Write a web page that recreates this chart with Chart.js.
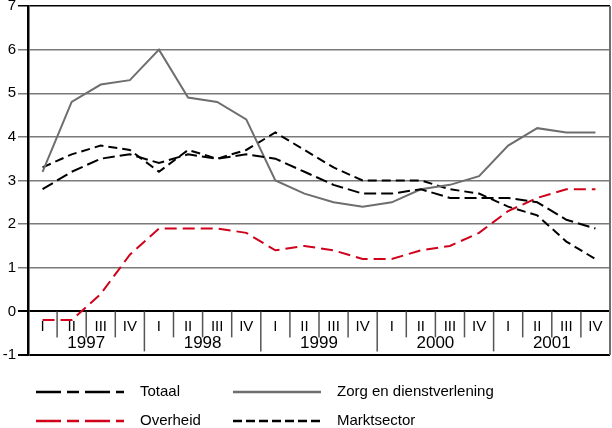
<!DOCTYPE html>
<html>
<head>
<meta charset="utf-8">
<script src="https://cdn.jsdelivr.net/npm/chart.js@4.4.1/dist/chart.umd.min.js"></script>
<style>
html,body{margin:0;padding:0;background:#fff;}
#wrap{width:612px;height:428px;position:relative;}
</style>
</head>
<body>
<div id="wrap"><canvas id="c" width="612" height="428"></canvas></div>
<script>
const quarters = ["I","II","III","IV","I","II","III","IV","I","II","III","IV","I","II","III","IV","I","II","III","IV"];
const years = ["1997","1998","1999","2000","2001"];
const totaal = [2.8,3.2,3.5,3.6,3.4,3.6,3.5,3.6,3.5,3.2,2.9,2.7,2.7,2.8,2.6,2.6,2.6,2.5,2.1,1.9];
const marktsector = [3.3,3.6,3.8,3.7,3.2,3.7,3.5,3.7,4.1,3.7,3.3,3.0,3.0,3.0,2.8,2.7,2.4,2.2,1.6,1.2];
const zorg = [3.2,4.8,5.2,5.3,6.0,4.9,4.8,4.4,3.0,2.7,2.5,2.4,2.5,2.8,2.9,3.1,3.8,4.2,4.1,4.1];
const overheid = [-0.2,-0.2,0.4,1.3,1.9,1.9,1.9,1.8,1.4,1.5,1.4,1.2,1.2,1.4,1.5,1.8,2.3,2.6,2.8,2.8];
const yTicks = [-1,0,1,2,3,4,5,6,7];

const FONT = "'Liberation Sans', Arial, sans-serif";
const labels = quarters.map((q,i)=> years[Math.floor(i/4)] + " " + q);

const datasets = [
  {label:"Totaal", data:totaal, borderColor:"#000", borderDash:[12,5], legendDash:[25,6,12,6], borderWidth:2},
  {label:"Zorg en dienstverlening", data:zorg, borderColor:"#6e6e6e", borderDash:[], legendDash:[], borderWidth:2},
  {label:"Overheid", data:overheid, borderColor:"#d0021b", borderDash:[12,6], legendDash:[25,6,12,6], borderWidth:2},
  {label:"Marktsector", data:marktsector, borderColor:"#000", borderDash:[9,5], legendDash:[9,4], borderWidth:2}
].map(d=>Object.assign(d,{fill:false,pointRadius:0,tension:0}));

const overlay = {
  id:"overlay",
  afterDraw(chart){
    const ctx = chart.ctx, xs = chart.scales.x, ys = chart.scales.y, ca = chart.chartArea;
    const y0 = ys.getPixelForValue(0);
    const step = xs.getPixelForValue(1) - xs.getPixelForValue(0);
    ctx.save();
    ctx.strokeStyle = "#555"; ctx.lineWidth = 1.5;
    for(let i=1;i<quarters.length;i++){
      const x = xs.getPixelForValue(i) - step/2;
      const isYear = i%4===0;
      ctx.beginPath(); ctx.moveTo(x,y0); ctx.lineTo(x, isYear? y0+40 : y0+26); ctx.stroke();
    }
    ctx.strokeStyle = "#6e6e6e"; ctx.lineWidth=2;
    ctx.beginPath(); ctx.moveTo(ca.right, ca.top); ctx.lineTo(ca.right, ca.bottom); ctx.stroke();
    ctx.fillStyle = "#000"; ctx.textAlign="center"; ctx.textBaseline="middle";
    ctx.font = "15px " + FONT;
    quarters.forEach((q,i)=>{ ctx.fillText(q, xs.getPixelForValue(i), y0+15); });
    ctx.font = "17px " + FONT;
    years.forEach((yr,j)=>{ const x = (xs.getPixelForValue(j*4+1)+xs.getPixelForValue(j*4+2))/2; ctx.fillText(yr, x, y0+32); });
    const items = [
      {ds:0, lx:36, tx:140, y:392},
      {ds:1, lx:233, tx:337, y:392},
      {ds:2, lx:36, tx:140, y:421},
      {ds:3, lx:233, tx:337, y:421}
    ];
    ctx.textAlign="left"; ctx.font = "15px " + FONT;
    items.forEach(it=>{
      const d = chart.data.datasets[it.ds];
      ctx.strokeStyle = d.borderColor; ctx.lineWidth = 2.5; ctx.setLineDash(d.legendDash);
      ctx.beginPath(); ctx.moveTo(it.lx, it.y); ctx.lineTo(it.lx+88, it.y); ctx.stroke();
      ctx.setLineDash([]);
      ctx.fillStyle="#000"; ctx.fillText(d.label, it.tx, it.y);
    });
    ctx.restore();
  }
};

new Chart(document.getElementById("c"), {
  type:"line",
  data:{labels:labels, datasets:datasets},
  options:{
    responsive:false, animation:false,
    layout:{padding:{top:6,right:2,bottom:73,left:0}},
    plugins:{legend:{display:false}, tooltip:{enabled:false}},
    scales:{
      x:{display:false, offset:true},
      y:{
        min:-1, max:7,
        afterBuildTicks(s){ s.ticks = yTicks.map(v=>({value:v})); },
        afterFit(s){ s.width = 28; s.paddingTop = 0; s.paddingBottom = 0; },
        border:{display:true, color:"#000", width:2.5},
        grid:{
          color:(c)=> (c.tick && (c.tick.value===0 || c.tick.value===-1 || c.tick.value===7)) ? "#000" : "#7a7a7a",
          lineWidth:(c)=> (c.tick && (c.tick.value===0 || c.tick.value===-1)) ? 2 : 1.5,
          drawTicks:true, tickLength:10
        },
        ticks:{padding:2, color:"#000", font:{family:FONT, size:15}, callback:(v)=>String(v)}
      }
    }
  },
  plugins:[overlay]
});
</script>
</body>
</html>
